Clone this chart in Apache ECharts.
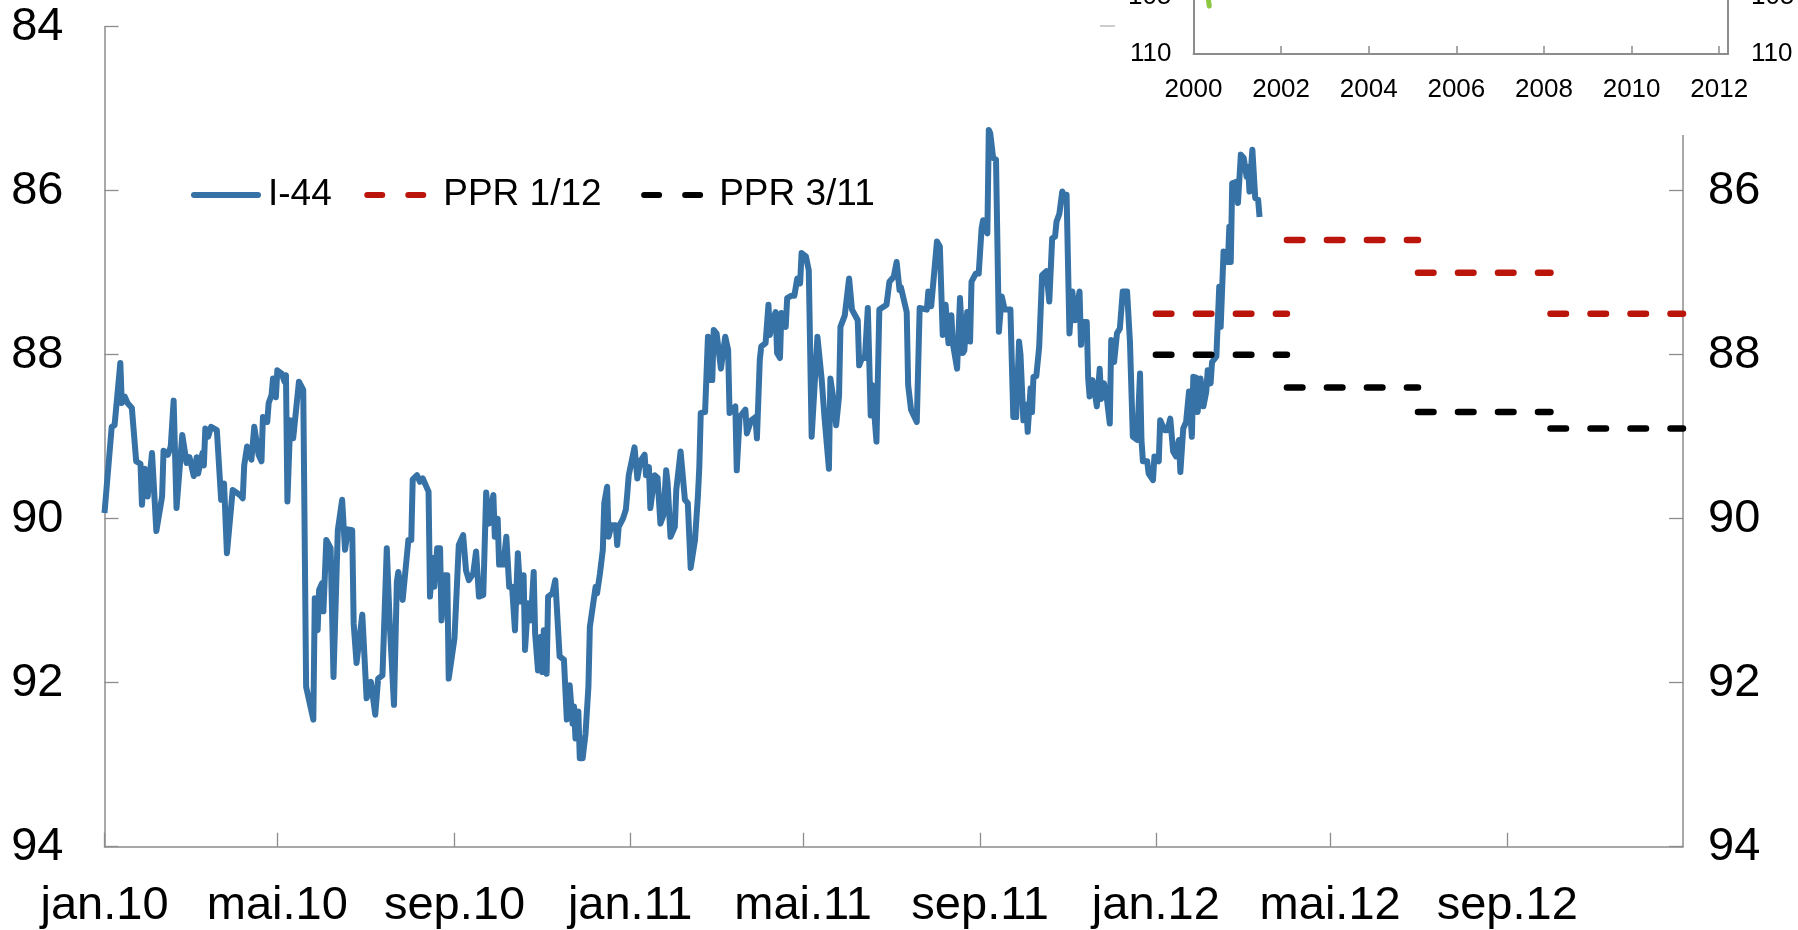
<!DOCTYPE html>
<html>
<head>
<meta charset="utf-8">
<script src="https://cdn.jsdelivr.net/npm/echarts@6/dist/echarts.min.js"></script>
<style>
  html, body { margin: 0; padding: 0; background: #fff; }
  #main { width: 1798px; height: 930px; }
</style>
</head>
<body>
<div id="main"></div>
<script>
// I-44 (daily)
var i44Dates = [
  '2010-01-01','2010-01-06','2010-01-08','2010-01-12','2010-01-13','2010-01-15','2010-01-17','2010-01-20','2010-01-23','2010-01-26','2010-01-27','2010-01-29','2010-01-31',
  '2010-02-03','2010-02-06','2010-02-10','2010-02-11','2010-02-14','2010-02-16','2010-02-18','2010-02-20','2010-02-24','2010-02-27',
  '2010-03-01','2010-03-04','2010-03-06','2010-03-07','2010-03-10','2010-03-11','2010-03-12','2010-03-14','2010-03-16','2010-03-20','2010-03-23','2010-03-25','2010-03-27','2010-03-31',
  '2010-04-05','2010-04-07','2010-04-08','2010-04-10','2010-04-13','2010-04-15','2010-04-18','2010-04-20','2010-04-21','2010-04-24','2010-04-25','2010-04-27','2010-04-28','2010-04-30',
  '2010-05-01','2010-05-04','2010-05-06','2010-05-07','2010-05-08','2010-05-10','2010-05-12','2010-05-16','2010-05-19','2010-05-21','2010-05-26','2010-05-27','2010-05-29','2010-05-30',
  '2010-06-01','2010-06-02','2010-06-04','2010-06-07','2010-06-09','2010-06-12','2010-06-15','2010-06-17','2010-06-19','2010-06-22','2010-06-23','2010-06-25','2010-06-29',
  '2010-07-02','2010-07-05','2010-07-08','2010-07-10','2010-07-13','2010-07-16','2010-07-18','2010-07-21','2010-07-23','2010-07-24','2010-07-27','2010-07-31',
  '2010-08-02','2010-08-03','2010-08-06','2010-08-08','2010-08-10','2010-08-14','2010-08-15','2010-08-17','2010-08-18','2010-08-20','2010-08-22','2010-08-23','2010-08-25','2010-08-27','2010-08-28',
  '2010-09-01','2010-09-04','2010-09-07','2010-09-09','2010-09-11','2010-09-14','2010-09-16','2010-09-18','2010-09-21','2010-09-23','2010-09-25','2010-09-28','2010-09-29',
  '2010-10-01','2010-10-02','2010-10-05','2010-10-07','2010-10-09','2010-10-11','2010-10-13','2010-10-15','2010-10-17','2010-10-19','2010-10-20','2010-10-22','2010-10-24','2010-10-26','2010-10-27','2010-10-29','2010-10-31',
  '2010-11-01','2010-11-02','2010-11-04','2010-11-05','2010-11-08','2010-11-10','2010-11-13','2010-11-16','2010-11-18','2010-11-20','2010-11-22','2010-11-23','2010-11-24','2010-11-26','2010-11-27','2010-11-29',
  '2010-12-01','2010-12-03','2010-12-04','2010-12-08','2010-12-09','2010-12-11','2010-12-13','2010-12-14','2010-12-16','2010-12-17','2010-12-19','2010-12-22','2010-12-23','2010-12-24','2010-12-27','2010-12-29','2010-12-30','2010-12-31',
  '2011-01-04','2011-01-06','2011-01-08','2011-01-11','2011-01-12','2011-01-14','2011-01-15','2011-01-18','2011-01-20','2011-01-22','2011-01-24','2011-01-26','2011-01-27','2011-01-29',
  '2011-02-01','2011-02-02','2011-02-05','2011-02-08','2011-02-10','2011-02-12','2011-02-15','2011-02-17','2011-02-18','2011-02-19','2011-02-22','2011-02-24','2011-02-25','2011-02-27','2011-02-28',
  '2011-03-02','2011-03-05','2011-03-08','2011-03-10','2011-03-11','2011-03-15','2011-03-16','2011-03-18','2011-03-22','2011-03-23','2011-03-26','2011-03-29','2011-03-30',
  '2011-04-01','2011-04-02','2011-04-05','2011-04-07','2011-04-08','2011-04-10','2011-04-12','2011-04-13','2011-04-15','2011-04-16','2011-04-17','2011-04-19','2011-04-20','2011-04-23','2011-04-25','2011-04-27','2011-04-29','2011-04-30',
  '2011-05-03','2011-05-05','2011-05-07','2011-05-11','2011-05-12','2011-05-14','2011-05-16','2011-05-19','2011-05-20','2011-05-22','2011-05-24','2011-05-26','2011-05-27','2011-05-30',
  '2011-06-02','2011-06-04','2011-06-08','2011-06-09','2011-06-11','2011-06-13','2011-06-15','2011-06-17','2011-06-18','2011-06-21','2011-06-23','2011-06-28','2011-06-30',
  '2011-07-03','2011-07-05','2011-07-07','2011-07-08','2011-07-12','2011-07-13','2011-07-15','2011-07-19','2011-07-21','2011-07-26','2011-07-27','2011-07-29','2011-07-30',
  '2011-08-02','2011-08-04','2011-08-06','2011-08-08','2011-08-10','2011-08-12','2011-08-13','2011-08-16','2011-08-18','2011-08-20','2011-08-21','2011-08-23','2011-08-25','2011-08-26','2011-08-29','2011-08-31',
  '2011-09-02','2011-09-03','2011-09-06','2011-09-07','2011-09-08','2011-09-10','2011-09-12','2011-09-14','2011-09-16','2011-09-18','2011-09-22','2011-09-24','2011-09-26','2011-09-28','2011-09-29',
  '2011-10-01','2011-10-03','2011-10-04','2011-10-06','2011-10-07','2011-10-08','2011-10-10','2011-10-12','2011-10-14','2011-10-17','2011-10-19','2011-10-21','2011-10-23','2011-10-24','2011-10-26','2011-10-28','2011-10-29','2011-10-31',
  '2011-11-02','2011-11-04','2011-11-06','2011-11-07','2011-11-09','2011-11-10','2011-11-11','2011-11-14','2011-11-15','2011-11-16','2011-11-18','2011-11-20','2011-11-21','2011-11-23','2011-11-24','2011-11-26','2011-11-28','2011-11-30',
  '2011-12-01','2011-12-03','2011-12-05','2011-12-07','2011-12-09','2011-12-12','2011-12-14','2011-12-16','2011-12-19','2011-12-21','2011-12-22','2011-12-23','2011-12-26','2011-12-27','2011-12-30','2011-12-31',
  '2012-01-03','2012-01-04','2012-01-07','2012-01-09','2012-01-11','2012-01-13','2012-01-15','2012-01-17','2012-01-18','2012-01-20','2012-01-22','2012-01-24','2012-01-26','2012-01-27','2012-01-29','2012-01-30',
  '2012-02-01','2012-02-03','2012-02-05','2012-02-06','2012-02-08','2012-02-09','2012-02-12','2012-02-13','2012-02-14','2012-02-15','2012-02-16','2012-02-17','2012-02-20','2012-02-21','2012-02-22','2012-02-23','2012-02-26','2012-02-27','2012-02-29',
  '2012-03-02','2012-03-04','2012-03-05','2012-03-06','2012-03-08','2012-03-10','2012-03-12','2012-03-13'
];
var i44Values = [
  89.93,88.88,88.86,88.10,88.59,88.51,88.59,88.65,89.30,89.33,89.83,89.39,89.73,
  89.20,90.15,89.73,89.17,89.22,89.12,88.56,89.87,88.98,89.32,
  89.25,89.48,89.25,89.45,89.20,89.35,88.90,89.00,88.88,88.92,89.77,89.57,90.42,89.65,
  89.71,89.75,89.35,89.12,89.28,88.88,89.22,89.30,88.76,88.82,88.59,88.49,88.29,88.52,
  88.19,88.23,88.33,88.25,89.79,88.80,89.02,88.33,88.43,92.05,92.45,90.97,91.36,90.87,
  90.79,91.13,90.26,90.36,91.93,90.14,89.77,90.38,90.13,90.14,91.28,91.76,91.17,
  92.19,91.99,92.39,91.95,91.91,90.36,91.26,92.27,90.77,90.65,90.99,90.26,
  90.26,89.52,89.47,89.55,89.51,89.67,90.95,90.48,90.83,90.36,90.36,91.24,90.69,90.69,91.95,
  91.46,90.32,90.20,90.63,90.75,90.67,90.40,90.95,90.93,89.68,90.06,89.71,90.22,
  90.00,90.56,90.56,90.22,90.83,90.83,91.36,90.42,91.01,90.69,91.60,91.03,91.24,90.65,91.40,91.85,91.44,
  91.87,91.36,91.89,90.95,90.91,90.75,91.68,91.72,92.45,92.03,92.50,92.29,92.68,92.35,92.92,92.92,
  92.62,92.05,91.32,90.83,90.91,90.67,90.38,89.81,89.61,90.22,90.08,90.08,90.32,90.10,90.00,89.89,89.69,89.47,
  89.13,89.51,89.30,89.22,89.47,89.37,89.87,89.47,89.50,90.06,89.96,89.41,89.57,90.22,
  90.10,89.65,89.18,89.77,89.81,90.60,90.26,89.73,89.37,88.71,88.70,87.78,88.31,88.31,87.70,
  87.74,88.17,87.78,87.94,88.71,88.63,89.41,88.76,88.67,88.96,88.80,88.76,89.02,
  88.06,87.90,87.86,87.39,87.76,87.58,87.48,87.98,88.04,87.49,87.49,87.66,87.31,87.28,87.28,87.07,87.13,86.76,
  86.80,86.97,89.00,87.78,87.78,88.31,88.78,89.39,88.29,88.53,88.86,88.51,87.66,87.52,
  87.07,87.45,87.58,88.13,88.04,88.04,87.43,88.74,88.37,89.06,87.45,87.39,87.11,
  87.05,86.87,87.21,87.18,87.48,88.37,88.67,88.82,87.43,87.45,87.23,87.41,87.41,
  86.62,86.68,87.76,87.39,87.86,87.52,87.86,88.17,87.31,87.98,87.95,87.48,87.84,87.11,87.01,87.01,
  86.46,86.36,86.52,85.26,85.30,85.60,85.62,87.72,87.29,87.45,87.45,88.76,88.76,87.84,88.00,
  88.80,88.61,88.94,88.41,88.70,88.27,88.26,87.90,87.03,86.98,87.35,86.58,86.56,86.38,86.28,86.01,86.05,86.05,
  87.74,87.23,87.58,87.58,87.23,87.88,87.60,87.60,88.29,88.51,88.31,88.51,88.63,88.17,88.54,88.35,88.54,88.84,
  87.82,88.09,87.74,87.68,87.23,87.23,87.84,89.00,89.04,88.23,89.04,89.30,89.30,89.45,89.53,89.24,
  89.30,88.80,88.92,88.92,88.78,89.18,89.24,89.04,89.43,88.90,88.82,88.45,89.00,88.27,88.28,88.70,
  88.29,88.63,88.45,88.19,88.35,88.09,88.02,88.02,87.17,87.66,87.66,86.74,86.87,86.44,86.87,85.91,85.89,86.15,85.56,
  85.60,85.83,85.71,86.01,85.50,86.09,86.11,86.32
];

// PPR forecasts, one level per quarter
var pprQuarters = ['2012-01-01', '2012-04-01', '2012-07-01', '2012-10-01', '2013-01-01'];
var ppr0112 = [87.5, 86.6, 87.0, 87.5];
var ppr0311 = [88.0, 88.4, 88.7, 88.9];

var xTickDates = ['2010-01-01', '2010-05-01', '2010-09-01', '2011-01-01', '2011-05-01',
  '2011-09-01', '2012-01-01', '2012-05-01', '2012-09-01'];
var monthNames = ['jan', 'feb', 'mar', 'apr', 'mai', 'jun', 'jul', 'aug', 'sep', 'okt', 'nov', 'des'];

// small chart partly visible in the top right corner
var insetYears = [2000.30, 2000.36];
var insetValues = [104.2, 105.8];

var FONT = '"Liberation Sans", Arial, sans-serif';
var AXIS_GREY = '#8c8c8c';
var BLUE = '#3672A6';
var RED = '#BA140B';

// legend icons: a solid bar and two short rounded dashes
var ICON_SOLID = 'path://M3,0H67A3,3 0 0 1 67,6H3A3,3 0 0 1 3,0Z';
var ICON_DASH = 'path://M3,0H18A3,3 0 0 1 18,6H3A3,3 0 0 1 3,0Z M44,0H59A3,3 0 0 1 59,6H44A3,3 0 0 1 44,0Z';

function toTime(s) {
  var p = s.split('-');
  return new Date(+p[0], +p[1] - 1, +p[2]).getTime();
}

function stepData(levels) {
  var out = [];
  for (var i = 0; i < levels.length; i++) {
    out.push([toTime(pprQuarters[i]), levels[i]]);
    out.push([toTime(pprQuarters[i + 1]), levels[i]]);
    if (i < levels.length - 1) out.push([toTime(pprQuarters[i + 1]), '-']);
  }
  return out;
}

var i44Data = i44Dates.map(function (d, i) { return [toTime(d), i44Values[i]]; });
var tickTimes = xTickDates.map(toTime);

var chart = echarts.init(document.getElementById('main'));

var option = {
  animation: false,
  backgroundColor: '#fff',
  textStyle: { fontFamily: FONT },
  grid: [
    { left: 104.5, right: 115, top: 26.7, bottom: 83.3, outerBoundsMode: 'none' },
    { left: 1193.5, right: 70, top: -60, bottom: 876, outerBoundsMode: 'none' }
  ],
  legend: {
    left: 191,
    top: 175,
    padding: 0,
    itemWidth: 70,
    itemHeight: 6,
    itemGap: 32.5,
    symbolKeepAspect: true,
    textStyle: { fontSize: 37, color: '#000', fontFamily: FONT, lineHeight: 40, padding: [0, 0, 0, 2] },
    data: [
      { name: 'I-44', icon: ICON_SOLID },
      { name: 'PPR 1/12', icon: ICON_DASH, textStyle: { padding: [0, 7, 0, 8] } },
      { name: 'PPR 3/11', icon: ICON_DASH, textStyle: { padding: [0, 0, 0, 7] } }
    ]
  },
  xAxis: [
    {
      // timestamps on a plain value axis, so the 4-month ticks can be placed exactly
      type: 'value',
      gridIndex: 0,
      min: toTime('2010-01-01'),
      max: toTime('2013-01-01'),
      axisLine: { onZero: false, lineStyle: { color: AXIS_GREY, width: 1.5 } },
      axisTick: { show: true, inside: true, length: 14, customValues: tickTimes, lineStyle: { color: AXIS_GREY, width: 1.3 } },
      axisLabel: {
        customValues: tickTimes,
        fontSize: 47,
        color: '#000',
        margin: 36,
        fontFamily: FONT,
        formatter: function (val) {
          var d = new Date(val);
          return monthNames[d.getMonth()] + '.' + String(d.getFullYear()).slice(2);
        }
      },
      splitLine: { show: false }
    },
    {
      type: 'value',
      gridIndex: 1,
      min: 2000,
      max: 2012.2,
      interval: 2,
      z: 10,
      axisLine: { onZero: false, lineStyle: { color: AXIS_GREY, width: 2 } },
      axisTick: { inside: true, length: 8, lineStyle: { color: AXIS_GREY, width: 1.5 } },
      axisLabel: {
        fontSize: 26,
        color: '#000',
        margin: 23,
        fontFamily: FONT,
        formatter: function (val) { return val % 1 === 0 ? String(val) : ''; }
      },
      splitLine: { show: false }
    }
  ],
  yAxis: [
    {
      type: 'value', gridIndex: 0, position: 'left', inverse: true,
      min: 84, max: 94, interval: 2,
      axisLine: { show: true, lineStyle: { color: AXIS_GREY, width: 1.5 } },
      axisTick: { show: true, inside: true, length: 14, lineStyle: { color: AXIS_GREY, width: 1.3 } },
      axisLabel: { fontSize: 47, color: '#000', margin: 41, fontFamily: FONT },
      splitLine: { show: false }
    },
    {
      type: 'value', gridIndex: 0, position: 'right', inverse: true,
      min: 84, max: 94, interval: 2,
      axisLine: { show: true, lineStyle: { color: AXIS_GREY, width: 1.5 } },
      axisTick: { show: true, inside: true, length: 14, lineStyle: { color: AXIS_GREY, width: 1.3 } },
      axisLabel: { fontSize: 47, color: '#000', margin: 25, fontFamily: FONT },
      splitLine: { show: false }
    },
    {
      type: 'value', gridIndex: 1, position: 'left', inverse: true,
      min: 100, max: 110, interval: 5, z: 10,
      axisLine: { show: true, lineStyle: { color: AXIS_GREY, width: 2 } },
      axisTick: { show: false },
      axisLabel: { fontSize: 26, color: '#000', margin: 22, fontFamily: FONT },
      splitLine: { show: false }
    },
    {
      type: 'value', gridIndex: 1, position: 'right', inverse: true,
      min: 100, max: 110, interval: 5, z: 10,
      axisLine: { show: true, lineStyle: { color: AXIS_GREY, width: 2 } },
      axisTick: { show: false },
      axisLabel: { fontSize: 26, color: '#000', margin: 23, fontFamily: FONT },
      splitLine: { show: false }
    }
  ],
  graphic: {
    elements: [
      // white panel behind the small chart
      { type: 'rect', z: 5, silent: true, shape: { x: 1095, y: 0, width: 703, height: 135 }, style: { fill: '#fff' } },
      { type: 'line', z: 6, silent: true, shape: { x1: 1100, y1: 26, x2: 1115, y2: 26 }, style: { stroke: '#bdbdbd', lineWidth: 1.5 } }
    ]
  },
  series: [
    {
      name: 'I-44',
      type: 'line',
      xAxisIndex: 0, yAxisIndex: 0,
      symbol: 'none',
      z: 3,
      lineStyle: { color: BLUE, width: 6, join: 'round' },
      itemStyle: { color: BLUE },
      data: i44Data
    },
    {
      name: 'PPR 1/12',
      type: 'line',
      xAxisIndex: 0, yAxisIndex: 0,
      symbol: 'none',
      connectNulls: false,
      lineStyle: { color: RED, width: 6.5, type: [15.5, 24.5], cap: 'round' },
      itemStyle: { color: RED },
      data: stepData(ppr0112)
    },
    {
      name: 'PPR 3/11',
      type: 'line',
      xAxisIndex: 0, yAxisIndex: 0,
      symbol: 'none',
      connectNulls: false,
      lineStyle: { color: '#000', width: 6.5, type: [15.5, 24.5], cap: 'round' },
      itemStyle: { color: '#000' },
      data: stepData(ppr0311)
    },
    {
      name: 'inset',
      type: 'line',
      xAxisIndex: 1, yAxisIndex: 2,
      symbol: 'none',
      z: 11,
      lineStyle: { color: '#8DC63F', width: 5, cap: 'round' },
      data: insetYears.map(function (y, i) { return [y, insetValues[i]]; })
    }
  ]
};

chart.setOption(option);
</script>
</body>
</html>
